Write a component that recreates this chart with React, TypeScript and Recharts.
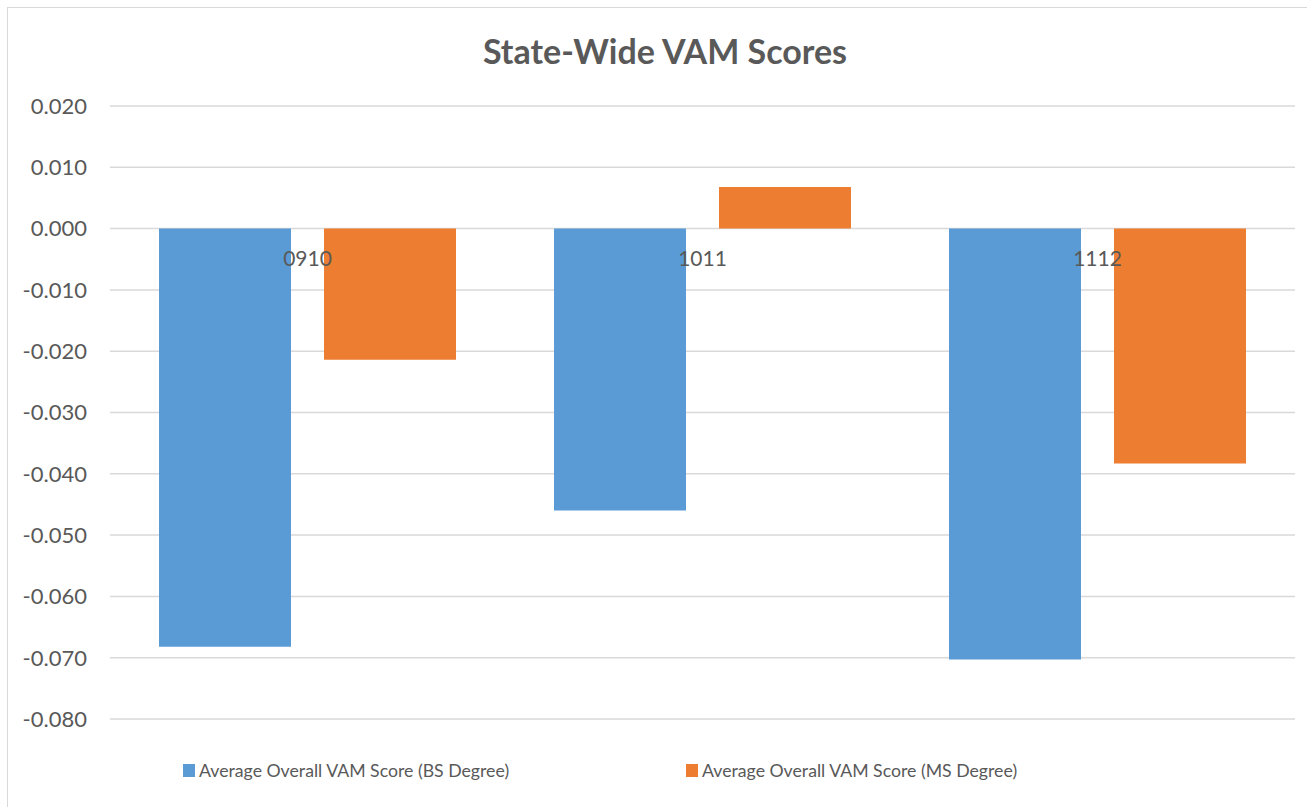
import React from 'react';
import { ComposedChart, Bar, Line, XAxis, YAxis, CartesianGrid, Legend, LabelList } from 'recharts';

const categories = ['0910', '1011', '1112'];
const bsScores = [-0.0682, -0.046, -0.0703];
const msScores = [-0.0214, 0.0068, -0.0383];
const yTicks = [0.02, 0.01, 0, -0.01, -0.02, -0.03, -0.04, -0.05, -0.06, -0.07, -0.08];
const seriesNames = ['Average Overall VAM Score (BS Degree)', 'Average Overall VAM Score (MS Degree)'];
const colors = ['#5B9BD5', '#ED7D31'];
const title = 'State-Wide VAM Scores';

const data = categories.map((c, i) => ({ cat: c, bs: bsScores[i], ms: msScores[i], base: 0 }));

const FONT = 'Lato, "Noto Sans", sans-serif';
const TEXT = '#595959';

const LegendContent = (props: any) => {
  const payload = (props.payload || []).filter((p: any) => p.type !== 'none');
  return (
    <div style={{ display: 'flex', fontFamily: FONT, fontSize: 17.7, color: TEXT }}>
      {payload.map((p: any, i: number) => (
        <div key={i} style={{ display: 'flex', alignItems: 'center', width: i === 0 ? 503 : 'auto' }}>
          <span style={{ display: 'inline-block', width: 12, height: 13, background: p.color, marginRight: 4 }} />
          <span>{p.value}</span>
        </div>
      ))}
    </div>
  );
};

export default function App() {
  return (
    <div style={{ position: 'absolute', left: 0, top: 0, width: 1307, height: 807, background: '#fff', overflow: 'hidden' }}>
      <div style={{ position: 'absolute', left: 7, top: 7, width: 1340, height: 840, border: '1px solid #D9D9D9' }} />
      <div style={{ position: 'absolute', left: 0, top: 30, width: 1330, textAlign: 'center', fontFamily: FONT, fontWeight: 700, fontSize: 34, color: TEXT }}>
        {title}
      </div>
      <div style={{ position: 'absolute', left: 0, top: 0 }}>
        <ComposedChart
          width={1307}
          height={807}
          data={data}
          margin={{ top: 106, right: 12, bottom: 88, left: 10 }}
          barCategoryGap={49}
          barGap={33}
        >
          <CartesianGrid vertical={false} stroke="#D9D9D9" strokeWidth={1.5} />
          <XAxis dataKey="cat" hide />
          <YAxis
            domain={[-0.08, 0.02]}
            ticks={yTicks}
            tickFormatter={(v: number) => v.toFixed(3)}
            axisLine={false}
            tickLine={false}
            tickSize={0}
            tickMargin={23}
            width={100}
            tick={{ fill: TEXT, fontSize: 22, fontFamily: FONT }}
            interval={0}
          />
          <Bar dataKey="bs" name={seriesNames[0]} fill={colors[0]} isAnimationActive={false} />
          <Bar dataKey="ms" name={seriesNames[1]} fill={colors[1]} isAnimationActive={false} />
          <Line dataKey="base" stroke="none" dot={false} activeDot={false} legendType="none" isAnimationActive={false}>
            <LabelList dataKey="cat" position="bottom" offset={22} fill={TEXT} fontSize={21} fontFamily={FONT} />
          </Line>
          <Legend
            layout="horizontal"
            verticalAlign="middle"
            align="center"
            content={<LegendContent />}
            wrapperStyle={{ position: 'absolute', top: 760, left: 183, width: 900 }}
          />
        </ComposedChart>
      </div>
    </div>
  );
}
